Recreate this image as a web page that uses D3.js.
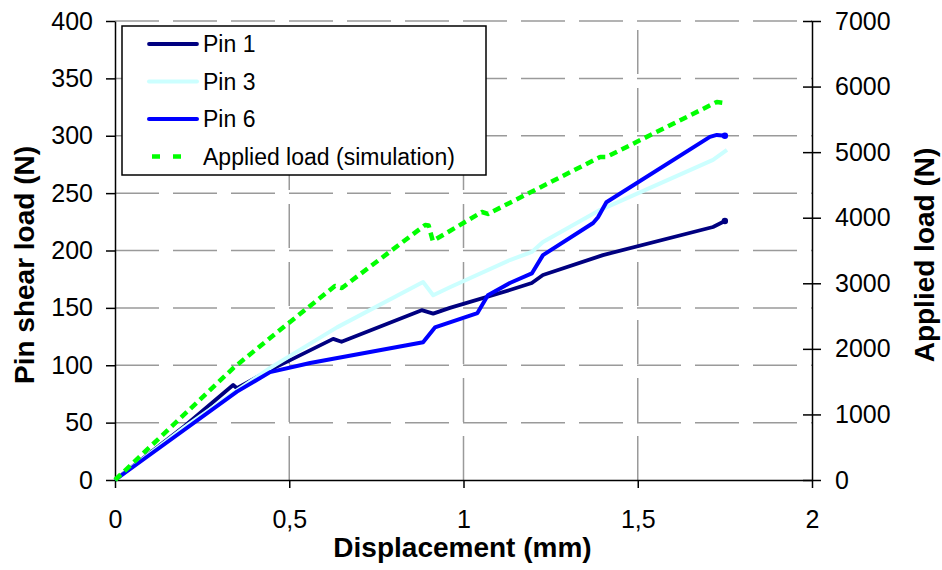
<!DOCTYPE html>
<html>
<head>
<meta charset="utf-8">
<script src="https://cdn.jsdelivr.net/npm/d3@7"></script>
<style>
  body { margin: 0; background: #fff; }
  svg { display: block; font-family: "Liberation Sans", Arial, sans-serif; }
  .axis path, .axis line { stroke: #000; stroke-width: 1.5; }
  .axis text { font-size: 25px; fill: #000; }
  .grid line { stroke: #9a9a9a; stroke-width: 1.5; stroke-dasharray: 44,14; }
  .axisLabel { font-size: 28px; font-weight: bold; fill: #000; }
</style>
</head>
<body>
<div id="chart"></div>
<script>
// data
const pin1X = [0, 0.2, 0.339, 0.35, 0.445, 0.5, 0.626, 0.65, 0.88, 0.913, 0.961, 1.133, 1.196, 1.228, 1.4, 1.716, 1.75];
const pin1Y = [0, 47, 82.8, 80, 96, 104, 123, 120.5, 148, 145, 150, 165.6, 171.7, 178.6, 196, 220.5, 225.7];

const pin3X = [0, 0.2, 0.35, 0.445, 0.637, 0.884, 0.913, 0.961, 1.133, 1.196, 1.228, 1.39, 1.716, 1.756];
const pin3Y = [0, 46, 78, 97.6, 133, 172.5, 161, 168, 191.7, 198.7, 207.4, 235, 279, 287.6];

const pin6X = [0, 0.35, 0.445, 0.56, 0.884, 0.918, 1.04, 1.07, 1.133, 1.196, 1.228, 1.372, 1.386, 1.41, 1.707, 1.727, 1.75];
const pin6Y = [0, 77, 94, 102, 120, 133, 145.5, 161, 171.7, 180, 196, 224, 229, 242, 299, 300.7, 300];

const loadX = [0, 0.34, 0.445, 0.631, 0.651, 0.89, 0.9, 0.912, 1.053, 1.07, 1.392, 1.41, 1.727, 1.75];
const loadY = [0, 1710, 2166, 2959, 2928, 3889, 3880, 3645, 4087, 4057, 4926, 4926, 5765, 5750];

const xTicks = [0, 0.5, 1, 1.5, 2];
const leftTicks = [0, 50, 100, 150, 200, 250, 300, 350, 400];
const rightTicks = [0, 1000, 2000, 3000, 4000, 5000, 6000, 7000];

const legendNames = ["Pin 1", "Pin 3", "Pin 6", "Applied load (simulation)"];

const svgWidth = 942, svgHeight = 570;
const margin = { top: 21, left: 115, right: 130, bottom: 90 };
const width = svgWidth - margin.left - margin.right,
  height = svgHeight - margin.top - margin.bottom;

const fmt = (d) => String(d).replace(".", ",");

let svg = d3
  .select("#chart")
  .append("svg")
  .attr("width", svgWidth)
  .attr("height", svgHeight)
  .append("g")
  .attr("transform", "translate(" + margin.left + "," + margin.top + ")");

const x = d3.scaleLinear().domain([0, 2]).range([0, width]);
const yL = d3.scaleLinear().domain([0, 400]).range([height, 0]);
const yR = d3.scaleLinear().domain([0, 7000]).range([height, 0]);

// grid
let grid = svg.append("g").attr("class", "grid");
grid
  .selectAll("line.h")
  .data(leftTicks.filter((d) => d > 0))
  .enter()
  .append("line")
  .attr("x1", 0)
  .attr("x2", width)
  .attr("y1", (d) => yL(d))
  .attr("y2", (d) => yL(d));
grid
  .selectAll("line.v")
  .data(xTicks.filter((d) => d > 0 && d < 2))
  .enter()
  .append("line")
  .attr("x1", (d) => x(d))
  .attr("x2", (d) => x(d))
  .attr("y1", height)
  .attr("y2", 0);

// axes
svg
  .append("g")
  .attr("class", "axis")
  .attr("transform", "translate(0," + height + ")")
  .call(d3.axisBottom(x).tickValues(xTicks).tickFormat(fmt).tickSize(8).tickSizeOuter(0))
  .selectAll("text")
  .attr("y", 48)
  .attr("dy", 0);

svg
  .append("g")
  .attr("class", "axis")
  .call(d3.axisLeft(yL).tickValues(leftTicks).tickSize(9).tickPadding(13).tickSizeOuter(0));

let rAxis = svg
  .append("g")
  .attr("class", "axis")
  .attr("transform", "translate(" + width + ",0)")
  .call(
    d3.axisRight(yR).tickValues(rightTicks).tickFormat(d3.format("d"))
      .tickSize(9).tickPadding(14).tickSizeOuter(0)
  );
rAxis.selectAll(".tick line").attr("x1", -9);

// series
const line = (xs, ys, yScale) =>
  d3.line().x((d, i) => x(xs[i])).y((d) => yScale(d))(ys);

const series = [
  { xs: pin1X, ys: pin1Y, y: yL, color: "#000080", w: 3.8, dash: null, dot: true },
  { xs: pin3X, ys: pin3Y, y: yL, color: "#ccffff", w: 4, dash: null, dot: false },
  { xs: pin6X, ys: pin6Y, y: yL, color: "#0000ff", w: 4, dash: null, dot: true },
  { xs: loadX, ys: loadY, y: yR, color: "#00ff00", w: 4.5, dash: "8,5", dot: false },
];

series.forEach((s) => {
  svg
    .append("path")
    .attr("d", line(s.xs, s.ys, s.y))
    .attr("fill", "none")
    .attr("stroke", s.color)
    .attr("stroke-width", s.w)
    .attr("stroke-linejoin", "round")
    .attr("stroke-dasharray", s.dash);
  if (s.dot) {
    const n = s.xs.length - 1;
    svg
      .append("circle")
      .attr("cx", x(s.xs[n]))
      .attr("cy", s.y(s.ys[n]))
      .attr("r", 3.2)
      .attr("fill", s.color);
  }
});

// legend
let legend = svg.append("g").attr("transform", "translate(7,5)");
legend
  .append("rect")
  .attr("width", 364)
  .attr("height", 149)
  .attr("fill", "#fff")
  .attr("stroke", "#000")
  .attr("stroke-width", 1.5);
legendNames.forEach((name, i) => {
  const s = series[i];
  const yy = 18 + i * 37.5;
  legend
    .append("line")
    .attr("x1", s.dash ? 30 : 27)
    .attr("x2", s.dash ? 64 : 75)
    .attr("y1", yy)
    .attr("y2", yy)
    .attr("stroke", s.color)
    .attr("stroke-width", s.w)
    .attr("stroke-linecap", s.dash ? "butt" : "round")
    .attr("stroke-dasharray", s.dash ? "8,13" : null);
  legend
    .append("text")
    .attr("x", 81)
    .attr("y", yy + 8)
    .style("font-size", "23px")
    .text(name);
});

// axis labels
svg
  .append("text")
  .attr("class", "axisLabel")
  .attr("transform", "translate(" + (x(1) - 1) + "," + (height + 77) + ")")
  .style("text-anchor", "middle")
  .text("Displacement (mm)");

svg
  .append("text")
  .attr("class", "axisLabel")
  .attr("transform", "translate(" + (34 - margin.left) + "," + (265 - margin.top) + ") rotate(-90)")
  .style("text-anchor", "middle")
  .text("Pin shear load (N)");

svg
  .append("text")
  .attr("class", "axisLabel")
  .attr("transform", "translate(" + (934 - margin.left) + "," + (255 - margin.top) + ") rotate(-90)")
  .style("text-anchor", "middle")
  .text("Applied load (N)");
</script>
</body>
</html>
